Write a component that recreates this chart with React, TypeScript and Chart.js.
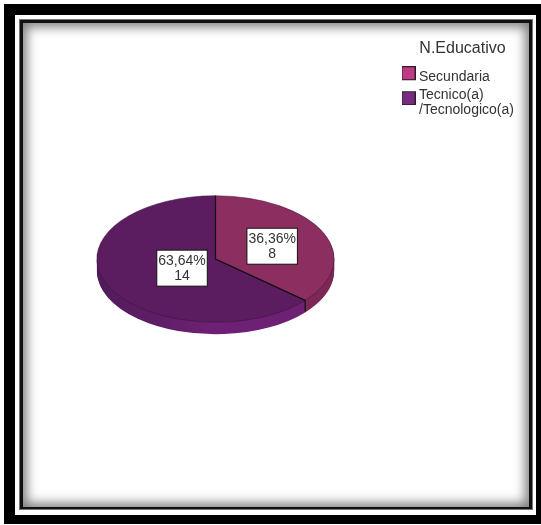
import React, { useEffect, useRef } from "react";
import { Chart, registerables } from "chart.js";

Chart.register(...registerables);

const categories: (string | string[])[] = ["Secundaria", ["Tecnico(a)", "/Tecnologico(a)"]];
const counts = [8, 14];
const percentLabels = ["36,36%", "63,64%"];
const legendTitle = "N.Educativo";
const topColors = ["#8C2F60", "#5B1D60"];
const sideColors = ["#7C2856", "#6E2174"];
const sideEdgeColors = ["#7C2856", "#511A5A"];
const legendColors = ["#BE3B84", "#762A80"];

const FONT = "'Liberation Sans', Arial, sans-serif";
const SQUASH = 0.533;
const DEPTH = 12;
const LABEL_RADIUS = [1.05, 0.62];
const SWATCH_SHIFT = [-4, 3];

// Legend swatch: a 14px square, moved within a transparent canvas so that it
// sits where the reference has it beside its (possibly two-line) label.
function makeSwatch(color: string, shift: number) {
  const c = document.createElement("canvas");
  const extra = Math.abs(shift) * 2;
  c.width = 14;
  c.height = 14 + extra;
  const g = c.getContext("2d")!;
  const y = extra / 2 + shift;
  g.fillStyle = color;
  g.fillRect(0, y, 14, 14);
  g.strokeStyle = "#2a1a2a";
  g.lineWidth = 1;
  g.strokeRect(0.5, y + 0.5, 13, 13);
  return c;
}

const pie3d = {
  id: "pie3d",
  afterLayout(chart: any) {
    const l = chart.legend;
    const w = l.width, h = l.height;
    l.left = 401; l.top = 41; l.right = 401 + w - 9; l.bottom = 41 + h;
  },
  beforeDatasetsDraw(chart: any) {
    const ctx = chart.ctx;
    const arcs = chart.getDatasetMeta(0).data;
    const cx = arcs[0].x, cy = arcs[0].y;
    for (let d = DEPTH; d >= 1; d--) {
      arcs.forEach((arc: any, i: number) => {
        const saved = arc.options;
        const o = Object.create(saved);
        const grad = ctx.createLinearGradient(cx - arc.outerRadius, 0, cx, 0);
        grad.addColorStop(0, sideEdgeColors[i]);
        grad.addColorStop(1, sideColors[i]);
        o.backgroundColor = grad;
        o.borderWidth = 0;
        arc.options = o;
        ctx.save();
        ctx.translate(cx, cy + d);
        ctx.scale(1, SQUASH);
        ctx.translate(-cx, -cy);
        arc.draw(ctx);
        ctx.restore();
        arc.options = saved;
      });
    }
    ctx.save();
    ctx.translate(cx, cy);
    ctx.scale(1, SQUASH);
    ctx.translate(-cx, -cy);
  },
  afterDatasetsDraw(chart: any) {
    const ctx = chart.ctx;
    ctx.restore();
    const arcs = chart.getDatasetMeta(0).data;
    const cx = arcs[0].x, cy = arcs[0].y;
    const a = arcs[0];
    const ex = cx + a.outerRadius * Math.cos(a.endAngle);
    const ey = cy + a.outerRadius * Math.sin(a.endAngle) * SQUASH;
    const sx = cx + a.outerRadius * Math.cos(a.startAngle);
    const sy = cy + a.outerRadius * Math.sin(a.startAngle) * SQUASH;
    ctx.save();
    ctx.strokeStyle = "#111";
    ctx.lineWidth = 1.2;
    ctx.beginPath();
    ctx.moveTo(sx, sy);
    ctx.lineTo(cx, cy);
    ctx.lineTo(ex, ey);
    ctx.lineTo(ex, ey + DEPTH - 1);
    ctx.stroke();
    ctx.lineWidth = 1;
    ctx.font = `14px ${FONT}`;
    ctx.textAlign = "center";
    ctx.textBaseline = "middle";
    arcs.forEach((arc: any, i: number) => {
      const mid = (arc.startAngle + arc.endAngle) / 2;
      const r = (arc.outerRadius / 2) * LABEL_RADIUS[i];
      const x = cx + r * Math.cos(mid);
      const y = cy + r * Math.sin(mid) * SQUASH + 1;
      const bw = ctx.measureText(percentLabels[i]).width + 3;
      const bh = 36;
      ctx.fillStyle = "#fff";
      ctx.fillRect(x - bw / 2, y - bh / 2, bw, bh);
      ctx.strokeStyle = "#111";
      ctx.strokeRect(x - bw / 2, y - bh / 2, bw, bh);
      ctx.fillStyle = "#333";
      ctx.fillText(percentLabels[i], x, y - 7);
      ctx.fillText(String(counts[i]), x, y + 8);
    });
    ctx.restore();
  },
};

const box = (left: number, top: number, right: number, bottom: number, extra: React.CSSProperties): React.CSSProperties => ({
  position: "absolute",
  left,
  top,
  width: right - left,
  height: bottom - top,
  ...extra,
});

export default function App() {
  const ref = useRef<HTMLCanvasElement>(null);
  useEffect(() => {
    document.body.style.margin = "0";
    const swatches = legendColors.map((c, i) => makeSwatch(c, SWATCH_SHIFT[i]));
    const chart = new Chart(ref.current!, {
      type: "pie",
      data: {
        labels: categories as any,
        datasets: [
          {
            data: counts,
            backgroundColor: topColors,
            borderColor: "#3a1238",
            borderWidth: 0.7,
            clip: false as any,
          },
        ],
      },
      options: {
        responsive: false,
        animation: false,
        layout: { padding: { left: 96, right: 206, top: 140, bottom: 147 } },
        plugins: {
          tooltip: { enabled: false },
          legend: {
            position: "chartArea" as any,
            align: "start",
            title: {
              display: true,
              text: legendTitle,
              position: "center",
              color: "#333",
              padding: { top: 0, bottom: 6 },
              font: { family: FONT, size: 16 },
            },
            labels: {
              usePointStyle: true,
              boxWidth: 7,
              boxHeight: 14,
              padding: 4,
              color: "#333",
              font: { family: FONT, size: 14, lineHeight: 1.07 },
              generateLabels: () =>
                categories.map((c, i) => ({
                  text: c as any,
                  fillStyle: legendColors[i],
                  strokeStyle: "#222",
                  pointStyle: swatches[i],
                  lineWidth: 1,
                  index: i,
                  fontColor: "#333",
                })),
            },
          },
        },
      },
      plugins: [pie3d],
    });
    return () => chart.destroy();
  }, []);
  return (
    <div style={{ position: "relative", width: 541, height: 525, background: "#fff", overflow: "hidden" }}>
      <div style={box(4, 4, 541, 524, { background: "#000" })} />
      <div style={box(15, 15, 536, 515, { background: "#fff" })} />
      <div style={box(19, 19, 533, 510, { background: "#111", border: "1px solid #777", boxSizing: "border-box" })} />
      <div style={box(23, 23, 529, 507, { background: "#fff", boxShadow: "inset 0 0 11px 4px rgba(0,0,0,0.5)" })} />
      <canvas
        ref={ref}
        width={541}
        height={525}
        style={{ position: "absolute", left: 0, top: 0, filter: "blur(0.5px)" }}
      />
    </div>
  );
}
